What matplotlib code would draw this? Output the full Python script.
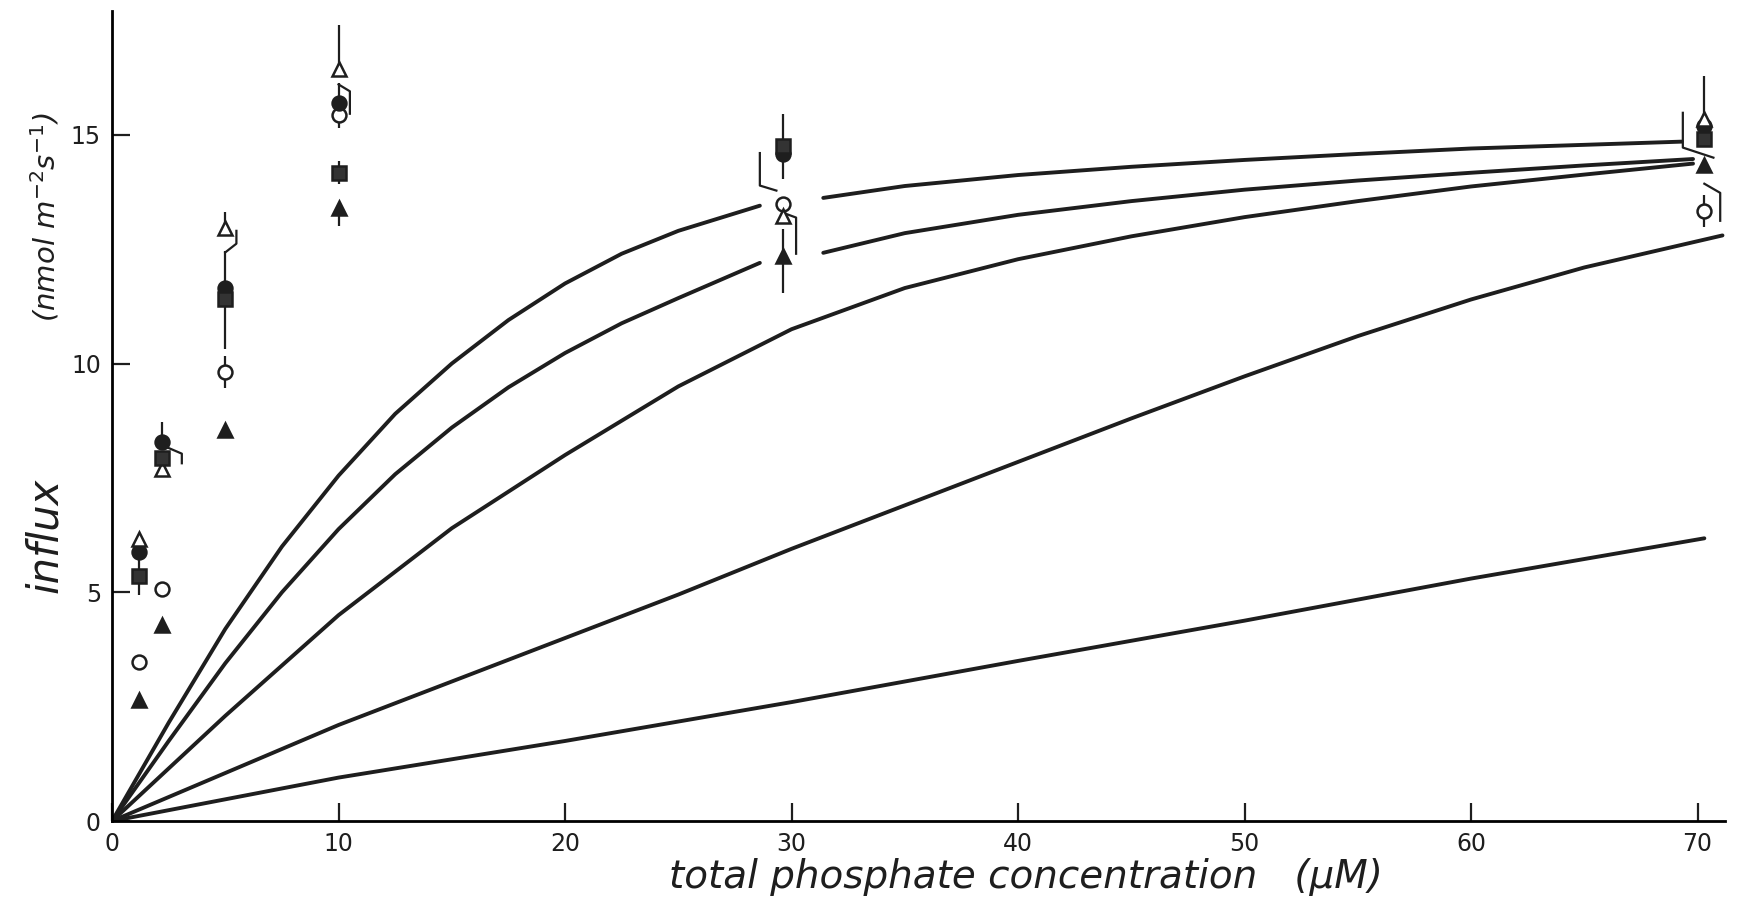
import numpy as np
import matplotlib.pyplot as plt

# concentrations where influx was measured (uM)
conc = [1.2, 2.2, 5.0, 10.0, 29.6, 70.3]

# measured influx for the five treatments
open_circle = [3.47, 5.08, 9.82, 15.44, 13.49, 13.34]
filled_circle = [5.89, 8.28, 11.65, 15.69, 14.59, 15.20]
open_triangle = [6.16, 7.70, 12.97, 16.44, 13.22, 15.34]
filled_triangle = [2.64, 4.28, 8.55, 13.41, 12.34, 14.34]
filled_square = [5.35, 7.94, 11.41, 14.17, 14.76, 14.90]

# error bars (lower, upper)
oc_err = [[0, 0, 0.35, 0.30, 0, 0.35], [0, 0, 0.35, 0, 0, 0.35]]
fc_err = [[0, 0, 0, 0, 0.55, 0], [0, 0.45, 0.80, 0.45, 0, 0]]
ot_err = [[0, 0, 0, 0, 0, 0], [0, 0, 0.35, 0.95, 0, 0.95]]
ft_err = [[0, 0, 0, 0.40, 0.80, 0], [0, 0, 0, 0, 0.60, 0]]
fs_err = [[0.40, 0, 1.10, 0.25, 0, 0], [0.40, 0, 0, 0.25, 0.70, 0]]

# offset (bent) error bars drawn beside crowded points
elbows = [
    ([2.42, 3.08, 3.08], [8.17, 8.03, 7.82]),
    ([5.0, 5.49, 5.49], [12.43, 12.62, 12.90]),
    ([10.0, 10.5, 10.5], [16.10, 15.95, 15.46]),
    ([29.33, 28.6, 28.6], [13.78, 13.89, 14.60]),
    ([29.6, 30.2, 30.2], [13.30, 13.19, 12.40]),
    ([69.35, 69.35, 70.7], [15.48, 14.72, 14.50]),
    ([70.3, 71.0, 71.0], [13.93, 13.73, 13.12]),
]

# model curves
c1_x = [0, 2.5, 5, 7.5, 10, 12.5, 15, 17.5, 20, 22.5, 25, 28.6, np.nan, 31.4, 35, 40, 45, 50, 55, 60, 65, 69.3]
c1_y = [0, 2.15, 4.2, 6.0, 7.55, 8.9, 10.0, 10.95, 11.75, 12.4, 12.9, 13.45, np.nan, 13.62, 13.88, 14.12, 14.3, 14.45, 14.58, 14.7, 14.78, 14.85]
c2_x = [0, 2.5, 5, 7.5, 10, 12.5, 15, 17.5, 20, 22.5, 25, 28.6, np.nan, 31.4, 35, 40, 45, 50, 55, 60, 65, 69.8]
c2_y = [0, 1.75, 3.45, 5.0, 6.38, 7.58, 8.6, 9.48, 10.23, 10.88, 11.43, 12.2, np.nan, 12.42, 12.85, 13.25, 13.55, 13.8, 14.0, 14.17, 14.33, 14.47]
c3_x = [0, 5, 10, 15, 20, 25, 30, 35, 40, 45, 50, 55, 60, 65, 69.8]
c3_y = [0, 2.3, 4.5, 6.4, 8.0, 9.5, 10.75, 11.65, 12.28, 12.78, 13.2, 13.55, 13.87, 14.13, 14.37]
c4_x = [0, 5, 10, 15, 20, 25, 30, 35, 40, 45, 50, 55, 60, 65, 71.1]
c4_y = [0, 1.05, 2.1, 3.05, 4.0, 4.95, 5.95, 6.9, 7.85, 8.8, 9.72, 10.6, 11.4, 12.1, 12.8]
c5_x = [0, 10, 20, 30, 40, 50, 60, 70.3]
c5_y = [0, 0.95, 1.75, 2.6, 3.5, 4.38, 5.3, 6.18]

x_ticks = [0, 10, 20, 30, 40, 50, 60, 70]
y_ticks = [0, 5, 10, 15]

fig = plt.figure(figsize=(17.51, 9.14), dpi=100)
ax = fig.add_axes([0.064, 0.1017, 0.921, 0.886])

ink = '#1e1e1e'
for cx, cy in [(c1_x, c1_y), (c2_x, c2_y), (c3_x, c3_y), (c4_x, c4_y), (c5_x, c5_y)]:
    ax.plot(cx, cy, color=ink, lw=2.8, solid_capstyle='round', solid_joinstyle='round', zorder=2)

for ex, ey in elbows:
    ax.plot(ex, ey, color=ink, lw=1.6, zorder=3)

series = [
    (open_circle, oc_err, 'o', 'white', 10),
    (filled_circle, fc_err, 'o', ink, 10),
    (open_triangle, ot_err, '^', 'white', 10.5),
    (filled_triangle, ft_err, '^', ink, 10.5),
    (filled_square, fs_err, 's', '#333333', 9.5),
]
for vals, err, mk, face, ms in series:
    ax.errorbar(conc, vals, yerr=err, fmt='none', ecolor=ink, elinewidth=1.6, capsize=0, zorder=3)
    ax.plot(conc, vals, ls='none', marker=mk, ms=ms, mfc=face, mec=ink, mew=1.8, zorder=4)

ax.set_xlim(0, 71.2)
ax.set_ylim(0, 17.7)
ax.set_xticks(x_ticks)
ax.set_yticks(y_ticks)
ax.spines['top'].set_visible(False)
ax.spines['right'].set_visible(False)
ax.spines['left'].set_linewidth(2)
ax.spines['bottom'].set_linewidth(2)
ax.tick_params(direction='in', length=13, width=1.6, labelsize=17, colors=ink)
ax.tick_params(axis='x', pad=8)
ax.tick_params(axis='y', pad=8)

fig.text(0.586, 0.04, 'total phosphate concentration   (µM)', fontsize=28, style='italic',
         color=ink, ha='center', va='center')
fig.text(0.026, 0.414, 'influx', fontsize=30, style='italic', rotation=90,
         color=ink, ha='center', va='center')
fig.text(0.026, 0.762, r'(nmol m$^{-2}$s$^{-1}$)', fontsize=21, style='italic', rotation=90,
         color=ink, ha='center', va='center')

fig.savefig('out.png', dpi=100)
